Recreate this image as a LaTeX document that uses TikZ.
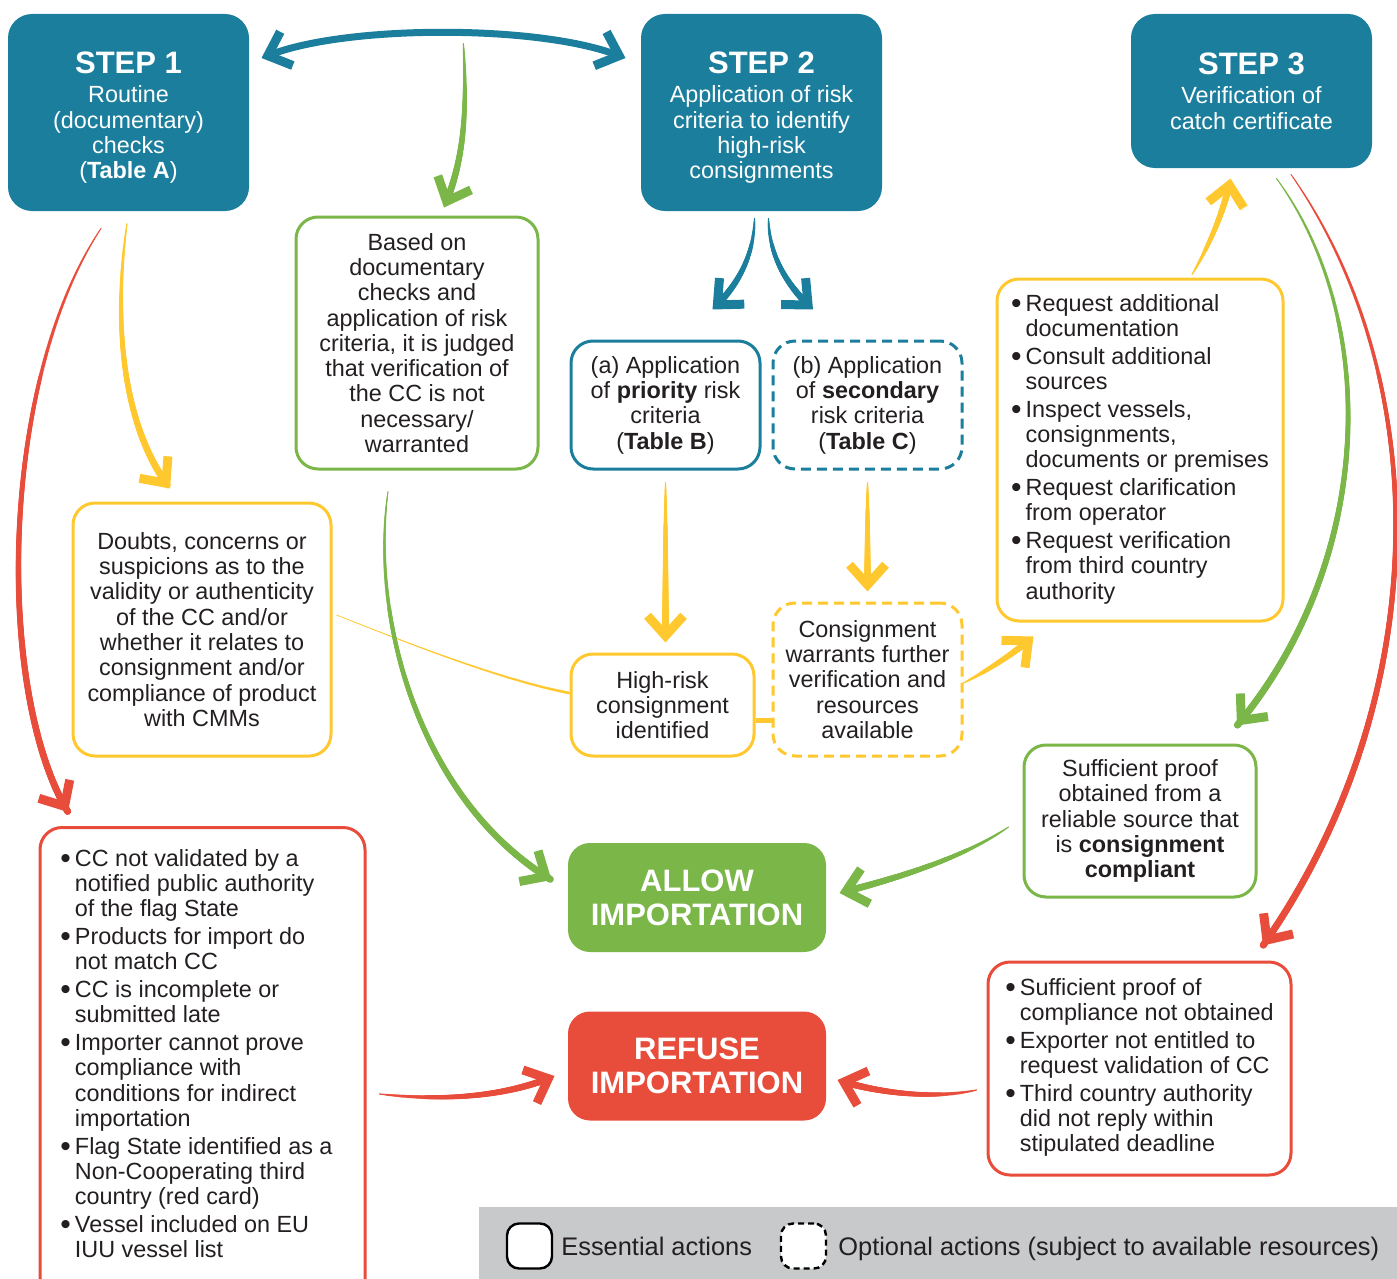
\documentclass[tikz,border=0pt]{standalone}
\usepackage{fontspec}
\setmainfont{Liberation Sans}
\usetikzlibrary{arrows.meta,decorations.markings}

\definecolor{stepblue}{HTML}{1B7E9D}
\definecolor{okgreen}{HTML}{7AB648}
\definecolor{nored}{HTML}{E84C3B}
\definecolor{warnyellow}{HTML}{FEC82E}
\definecolor{keygrey}{HTML}{C8C9CB}
\definecolor{ink}{HTML}{231F20}

\newcommand\bodyfont{\fontsize{11.7}{12.65}\selectfont}
\newcommand\headfont{\fontsize{15.5}{17}\selectfont\bfseries}
\newcommand\keyfont{\fontsize{12.7}{14}\selectfont}
\newcommand\dotmark{\raisebox{-1.1pt}{\fontsize{15}{12}\selectfont\textbullet}}
\newcommand\bulletlist[1]{\begin{tabular}{@{}l@{\hspace{2pt}}l@{}}#1\end{tabular}}

\begin{document}
\begin{tikzpicture}[x=0.5pt,y=-0.5pt,
    box/.style={rounded corners=11pt,line width=1.5pt,align=center,
      font=\bodyfont,text=ink,inner sep=0pt},
    stepbox/.style={box,rounded corners=12pt,fill=stepblue,text=white,
      minimum width=120.5pt},
    verdict/.style={box,font=\headfont,text=white,minimum width=129pt,
      minimum height=54.5pt},
    keybox/.style={box,draw=black,fill=white,line width=1.2pt,
      rounded corners=6pt,minimum size=22.5pt},
    keytext/.style={anchor=base west,font=\keyfont,text=ink,inner sep=0pt},
    optional/.style={dash pattern=on 5pt off 3pt},
    barb/.tip={Straight Barb[length=10pt,width=18pt,line width=4.5pt]},
    taper/.style={postaction={decorate,decoration={markings,
      mark=between positions 0 and -3pt step #1 with {\fill (0,0) circle
        ({0.15pt+1.65pt*sqrt(\pgfkeysvalueof{/pgf/decoration/mark info/sequence number}*#1)});}}}},
    swoosh/.style={line width=0.4pt,-barb,taper=#1},
    thread/.style={draw=warnyellow,line width=0.3pt}]

  \useasboundingbox (0,0) rectangle (1397,1279);
  \clip (0,0) rectangle (1397,1279);
  \fill[keygrey] (479,1207) rectangle (1397,1279);

  \node[stepbox,minimum height=98.5pt] (step1) at (128.5,112.5)
    {\rule{0pt}{16pt}{\headfont STEP 1}\\[2pt]Routine\\(documentary)\\checks\\(\textbf{Table A})};
  \node[stepbox,minimum height=98.5pt] (step2) at (761.5,112.5)
    {\rule{0pt}{16pt}{\headfont STEP 2}\\[2pt]Application of risk\\criteria to identify\\high-risk\\consignments};
  \node[stepbox,minimum height=77pt] (step3) at (1251.5,91)
    {{\headfont STEP 3}\\[2pt]Verification of\\catch certificate};

  \node[box,draw=okgreen,minimum width=121pt,minimum height=126pt] (judged) at (417,343)
    {Based on\\documentary\\checks and\\application of risk\\criteria, it is judged\\that verification of\\the CC is not\\necessary/\\warranted};
  \node[box,draw=stepblue,minimum width=94.5pt,minimum height=64pt] (prio) at (665.5,405)
    {(a) Application\\of \textbf{priority} risk\\criteria\\(\textbf{Table B})};
  \node[box,draw=stepblue,optional,minimum width=94.5pt,minimum height=64pt] (second) at (867.5,405)
    {(b) Application\\of \textbf{secondary}\\risk criteria\\(\textbf{Table C})};
  \node[box,draw=warnyellow,minimum width=91.5pt,minimum height=51pt] (highrisk) at (662.5,705)
    {High-risk\\consignment\\identified};
  \node[box,draw=warnyellow,optional,minimum width=94.5pt,minimum height=76.5pt] (further) at (867.5,679.5)
    {Consignment\\warrants further\\verification and\\resources\\available};
  \node[box,draw=warnyellow,minimum width=143pt,minimum height=171pt] (actions) at (1140,450)
    {\bulletlist{\dotmark & Request additional\\ & documentation\\[1.2pt]
      \dotmark & Consult additional\\ & sources\\[1.2pt]
      \dotmark & Inspect vessels,\\ & consignments,\\ & documents or premises\\[1.2pt]
      \dotmark & Request clarification\\ & from operator\\[1.2pt]
      \dotmark & Request verification\\ & from third country\\ & authority}};
  \node[box,draw=warnyellow,minimum width=129pt,minimum height=126.5pt] (doubts) at (202,629.5)
    {Doubts, concerns or\\suspicions as to the\\validity or authenticity\\of the CC and/or\\whether it relates to\\consignment and/or\\compliance of product\\with CMMs};
  \node[box,draw=okgreen,minimum width=116pt,minimum height=76pt] (proof) at (1140,821)
    {Sufficient proof\\obtained from a\\reliable source that\\is \textbf{consignment}\\\textbf{compliant}};
  \node[verdict,fill=okgreen] (allow) at (697,897.5) {ALLOW\\IMPORTATION};
  \node[verdict,fill=nored] (refuse) at (697,1066) {REFUSE\\IMPORTATION};
  \node[box,draw=nored,minimum width=151.5pt,minimum height=106.5pt] (notobtained) at (1139.5,1068.5)
    {\bulletlist{\dotmark & Sufficient proof of\\ & compliance not obtained\\[1.2pt]
      \dotmark & Exporter not entitled to\\ & request validation of CC\\[1.2pt]
      \dotmark & Third country authority\\ & did not reply within\\ & stipulated deadline}};
  \node[box,draw=nored,anchor=north,minimum width=162.5pt,inner ysep=10.5pt] (refusals) at (202.5,826)
    {\bulletlist{\dotmark & CC not validated by a\\ & notified public authority\\ & of the flag State\\[1.2pt]
      \dotmark & Products for import do\\ & not match CC\\[1.2pt]
      \dotmark & CC is incomplete or\\ & submitted late\\[1.2pt]
      \dotmark & Importer cannot prove\\ & compliance with\\ & conditions for indirect\\ & importation\\[1.2pt]
      \dotmark & Flag State identified as a\\ & Non-Cooperating third\\ & country (red card)\\[1.2pt]
      \dotmark & Vessel included on EU\\ & IUU vessel list\\[24pt]}\hspace*{6pt}};

  \draw[stepblue,line width=3.5pt,barb-barb]
    ([shift={(11,-54.5)}]step1.east) .. controls (350,25) and (535,25) .. coordinate[pos=0.55] (split) ([shift={(-14,-54.5)}]step2.west);
  \draw[swoosh=0.005,okgreen] ([yshift=-5pt]split) .. controls (468,120) and (462,165) .. ([shift={(27,-8)}]judged.north);
  \draw[swoosh=0.008,stepblue] ([shift={(-7,6)}]step2.south) .. controls (754,262) and (732,291) .. ([shift={(47,-30)}]prio.north);
  \draw[swoosh=0.008,stepblue] ([shift={(7,6)}]step2.south) .. controls (769,262) and (793,291) .. ([shift={(-54.5,-30)}]second.north);
  \draw[swoosh=0.005,warnyellow] ([shift={(0,12)}]prio.south) -- ([shift={(3,-10)}]highrisk.north);
  \draw[swoosh=0.008,warnyellow] ([shift={(0,12)}]second.south) -- ([shift={(0,-10)}]further.north);
  \draw[draw=warnyellow,line width=2.5pt] ([yshift=-7.5pt]highrisk.east) -- ([yshift=-20.25pt]further.west);
  \draw[thread,postaction={decorate,decoration={markings,mark=between positions 0 and 1 step 0.004 with {\fill[warnyellow] (0,0) circle
        ({0.15pt+0.6pt*\pgfkeysvalueof{/pgf/decoration/mark info/sequence number}*0.004});}}}]
    ([shift={(4,-14.5)}]doubts.east) .. controls (400,640) and (500,680) .. ([shift={(0,-12)}]highrisk.west);
  \draw[swoosh=0.01,warnyellow] ([shift={(0,3.5)}]further.east) .. controls (985,672) and (1012,655) .. ([shift={(38,14)}]actions.south west);
  \draw[swoosh=0.008,warnyellow] ([shift={(52,-3)}]actions.north) .. controls (1210,245) and (1226,205) .. ([shift={(-21,9)}]step3.south);
  \draw[swoosh=0.0015,okgreen] ([shift={(25,9)}]step3.south) .. controls (1380,320) and (1375,560) .. ([shift={(97,-18)}]proof.north);
  \draw[swoosh=0.001,nored] ([shift={(39.5,5)}]step3.south) .. controls (1435,380) and (1435,700) .. ([shift={(123.5,-15)}]notobtained.north);
  \draw[swoosh=0.004,okgreen] ([shift={(-14,6)}]proof.west) .. controls (960,860) and (890,880) .. ([shift={(12,-4.5)}]allow.east);
  \draw[swoosh=0.006,nored] ([shift={(-10,21.5)}]notobtained.west) .. controls (930,1100) and (875,1092) .. ([shift={(10,14)}]refuse.east);
  \draw[swoosh=0.005,nored] ([shift={(13,268)}]refusals.north east) .. controls (450,1102) and (510,1095) .. ([shift={(-12,10)}]refuse.west);
  \draw[swoosh=0.003,warnyellow] ([shift={(-1.5,11)}]step1.south) .. controls (112,330) and (125,430) .. ([shift={(-32,-13)}]doubts.north);
  \draw[swoosh=0.0015,nored] ([shift={(-27.5,16)}]step1.south) .. controls (0,380) and (-5,690) .. ([shift={(-134.5,-14)}]refusals.north);
  \draw[swoosh=0.002,okgreen] ([shift={(-29,21)}]judged.south) .. controls (370,620) and (420,800) .. ([shift={(-15,-17.5)}]allow.west);

  \node[keybox] (keysolid) at (529.5,1246) {};
  \node[keytext] (keysolidtext) at (561,1255) {Essential actions};
  \node[keybox,dash pattern=on 3pt off 2pt] (keydashed) at (803.5,1246) {};
  \node[keytext] (keydashedtext) at (838,1255) {Optional actions (subject to available resources)};
\end{tikzpicture}
\end{document}
